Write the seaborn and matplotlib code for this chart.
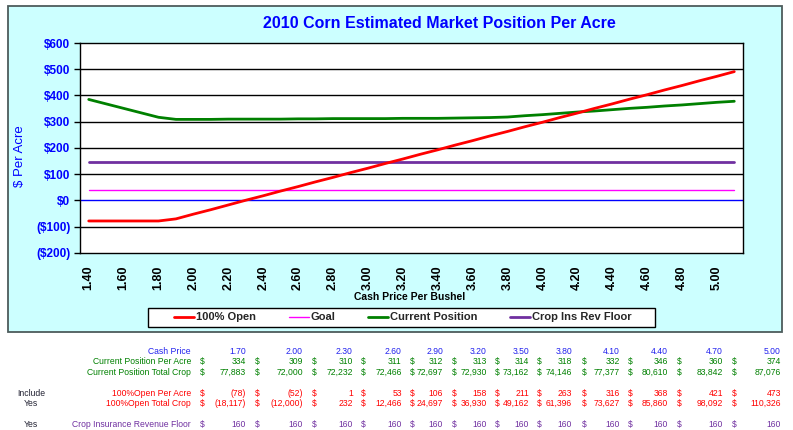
import numpy as np
import pandas as pd
import seaborn as sns
import matplotlib.pyplot as plt
from matplotlib.patches import Rectangle
from matplotlib.lines import Line2D
from matplotlib.ticker import FuncFormatter

# chart data (one point every 0.10 $/bu)
price = [1.40, 1.50, 1.60, 1.70, 1.80, 1.90, 2.00, 2.10, 2.20, 2.30,
         2.40, 2.50, 2.60, 2.70, 2.80, 2.90, 3.00, 3.10, 3.20, 3.30,
         3.40, 3.50, 3.60, 3.70, 3.80, 3.90, 4.00, 4.10, 4.20, 4.30,
         4.40, 4.50, 4.60, 4.70, 4.80, 4.90, 5.00, 5.10]
open_100 = [-78, -78, -78, -78, -78, -70, -52, -35, -17, 1,
            18, 36, 53, 71, 88, 106, 123, 141, 158, 176,
            193, 211, 228, 246, 263, 281, 298, 316, 333, 351,
            368, 386, 403, 421, 438, 456, 473, 491]
current_pos = [385, 368, 351, 334, 317, 309, 309, 309, 310, 310,
               310, 310, 311, 311, 312, 312, 312, 312, 313, 313,
               313, 314, 315, 316, 318, 323, 327, 332, 337, 341,
               346, 351, 355, 360, 364, 369, 374, 378]
goal = [40] * len(price)
ins_floor = [147] * len(price)

series_names = ["100% Open", "Goal", "Current Position", "Crop Ins Rev Floor"]
series_colors = ["#FF0000", "#FF00FF", "#008000", "#7030A0"]
series_widths = [2.0, 1.0, 2.0, 2.0]

# table under the chart
tbl_price = [1.70, 2.00, 2.30, 2.60, 2.90, 3.20, 3.50, 3.80, 4.10, 4.40, 4.70, 5.00]
tbl_cur_acre = [334, 309, 310, 311, 312, 313, 314, 318, 332, 346, 360, 374]
tbl_cur_total = [77883, 72000, 72232, 72466, 72697, 72930, 73162, 74146, 77377, 80610, 83842, 87076]
tbl_open_acre = [-78, -52, 1, 53, 106, 158, 211, 263, 316, 368, 421, 473]
tbl_open_total = [-18117, -12000, 232, 12466, 24697, 36930, 49162, 61396, 73627, 85860, 98092, 110326]
tbl_floor = [160] * 12

df = pd.DataFrame({
    "price": price * 4,
    "value": open_100 + goal + current_pos + ins_floor,
    "series": sum([[n] * len(price) for n in series_names], []),
})

sns.set_style("white")
plt.rcParams["font.family"] = ["Liberation Sans", "DejaVu Sans"]

W, H = 793, 430
fig = plt.figure(figsize=(W / 100, H / 100), dpi=100, facecolor="white")


def fx(x):
    return x / W


def fy(y):
    return 1 - y / H


# cyan chart area
fig.add_artist(Rectangle((fx(8), fy(332)), fx(782) - fx(8), fy(6) - fy(332),
                         transform=fig.transFigure, facecolor="#CCFFFF",
                         edgecolor="#4d5c5c", lw=1.3, zorder=-1))

ax = fig.add_axes([fx(80), fy(253), fx(743) - fx(80), fy(43) - fy(253)])
ax.set_facecolor("white")

for name, col, lw in zip(series_names[::-1], series_colors[::-1], series_widths[::-1]):
    sns.lineplot(data=df[df["series"] == name], x="price", y="value",
                 color=col, linewidth=lw, ax=ax, legend=False, zorder=3)

ax.set_xlim(1.35, 5.15)
ax.set_ylim(-200, 600)
ax.set_yticks(range(-200, 700, 100))
for v in range(-100, 600, 100):
    ax.axhline(v, color="#0000FF" if v == 0 else "black", lw=1, zorder=2)

ax.yaxis.set_major_formatter(FuncFormatter(
    lambda v, p: f"${v:.0f}" if v >= 0 else f"(${-v:.0f})"))
ax.tick_params(axis="y", direction="out", length=4, width=1, color="black",
               labelsize=8.5, labelcolor="#0000FF", pad=3, left=True)
for t in ax.get_yticklabels():
    t.set_fontweight("bold")

xt = np.round(np.arange(1.40, 5.01, 0.2), 2)
ax.set_xticks(xt)
ax.set_xticklabels([f"{v:.2f}" for v in xt], rotation=90, fontsize=9,
                   fontweight="bold", color="black")
ax.tick_params(axis="x", length=0, pad=9)
ax.set_xlabel("")
ax.set_ylabel("")
for s in ax.spines.values():
    s.set_color("black")
    s.set_linewidth(1)

fig.text(fx(439), fy(23), "2010 Corn Estimated Market Position Per Acre",
         ha="center", va="center", fontsize=11.5, fontweight="bold", color="#0000FF")
fig.text(fx(20), fy(156), "$ Per Acre", rotation=90, ha="center", va="center",
         fontsize=9.5, color="#0000FF")
fig.text(fx(410), fy(297), "Cash Price Per Bushel", ha="center", va="center",
         fontsize=7.5, fontweight="bold", color="black")

# legend box drawn separately so it can be wider than the entries
fig.add_artist(Rectangle((fx(148), fy(327)), fx(655) - fx(148), fy(308) - fy(327),
                         transform=fig.transFigure, facecolor="white",
                         edgecolor="black", lw=1, zorder=1))
handles = [Line2D([], [], color=c, lw=w) for c, w in zip(series_colors, series_widths)]
leg = fig.legend(handles, series_names, loc="center", ncol=4,
                 bbox_to_anchor=(fx(403), fy(317.5)), frameon=False,
                 handlelength=1.8, handletextpad=0.2, columnspacing=2.9,
                 borderpad=0.2, prop={"weight": "bold", "size": 8})
leg.set_zorder(2)

# table
val_right = [246, 303, 352.7, 401.7, 443, 487, 529, 572, 620, 668, 723, 781]
dol_left = [200, 255, 312, 361, 410, 452, 495, 537, 582, 628, 677, 732]
row_y = [351, 361.7, 372.3, 393.3, 403.3, 424.3]


def fmt(v):
    s = f"{abs(v):,}"
    return f"({s})" if v < 0 else s


rows = [
    ("Cash Price", [f"{v:.2f}" for v in tbl_price], "#2222EE", False),
    ("Current Position Per Acre", [fmt(v) for v in tbl_cur_acre], "#008000", True),
    ("Current Position Total Crop", [fmt(v) for v in tbl_cur_total], "#008000", True),
    ("100%Open Per Acre", [fmt(v) for v in tbl_open_acre], "#FF0000", True),
    ("100%Open Total Crop", [fmt(v) for v in tbl_open_total], "#FF0000", True),
    ("Crop Insurance Revenue Floor", [fmt(v) for v in tbl_floor], "#7030A0", True),
]
tfs = 6.2
for (label, vals, col, dollar), y in zip(rows, row_y):
    fig.text(fx(191), fy(y), label, ha="right", va="center", fontsize=tfs, color=col)
    for i, v in enumerate(vals):
        fig.text(fx(val_right[i]), fy(y), v, ha="right", va="center", fontsize=tfs, color=col)
        if dollar:
            fig.text(fx(dol_left[i]), fy(y), "$", ha="left", va="center", fontsize=tfs, color=col)

for txt, y in [("Include", 393.3), ("Yes", 403.3), ("Yes", 424.3)]:
    fig.text(fx(31), fy(y), txt, ha="center", va="center", fontsize=tfs, color="#222233")

fig.savefig("out.png", dpi=100, facecolor="white")
